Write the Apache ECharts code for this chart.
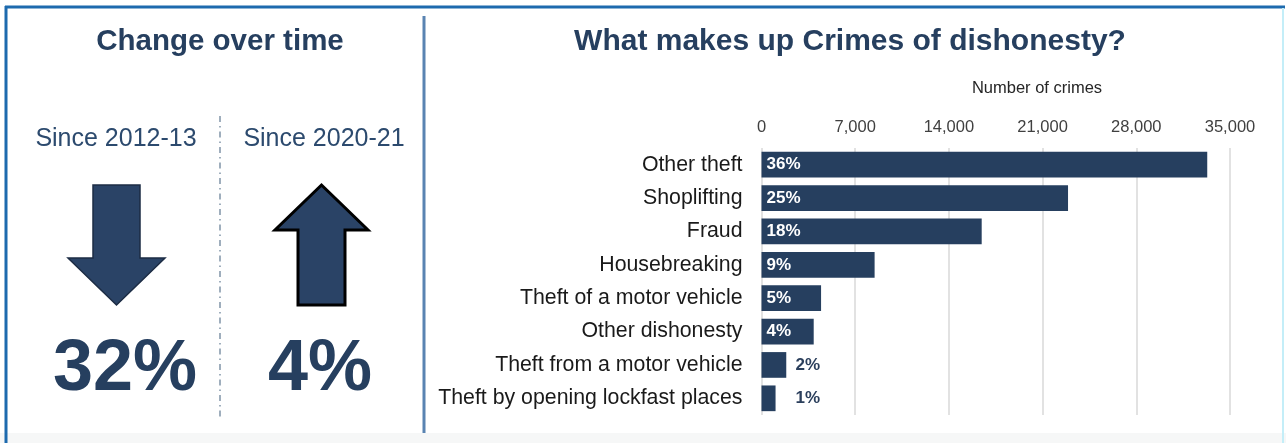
<!DOCTYPE html>
<html>
<head>
<meta charset="utf-8">
<script src="https://cdn.jsdelivr.net/npm/echarts@6/dist/echarts.min.js"></script>
<style>
  html, body { margin: 0; padding: 0; background: #ffffff; }
  #chart { width: 1286px; height: 443px; }
</style>
</head>
<body>
<div id="chart"></div>
<script>
// Crimes of dishonesty: breakdown by crime type
const categories = [
  'Other theft',
  'Shoplifting',
  'Fraud',
  'Housebreaking',
  'Theft of a motor vehicle',
  'Other dishonesty',
  'Theft from a motor vehicle',
  'Theft by opening lockfast places'
];
const crimeCounts = [33300, 22900, 16450, 8450, 4450, 3900, 1850, 1050];
const shareLabels = ['36%', '25%', '18%', '9%', '5%', '4%', '2%', '1%'];
const axisTicks = [0, 7000, 14000, 21000, 28000, 35000];

// Change over time panel
const changePeriods = ['Since 2012-13', 'Since 2020-21'];
const changeValues = [-32, 4];

const NAVY = '#263f5f';
const FONT = '"Liberation Sans", Arial, sans-serif';

const chart = echarts.init(document.getElementById('chart'));

// arrow polygon built around a column centre
function arrowPoints(cx, top, bottom, up, headW, shaftW, headLen) {
  const hl = cx - headW / 2, hr = cx + headW / 2;
  const sl = cx - shaftW / 2, sr = cx + shaftW / 2;
  if (up) {
    const hb = top + headLen;
    return [[cx, top], [hr, hb], [sr, hb], [sr, bottom], [sl, bottom], [sl, hb], [hl, hb]];
  }
  const hb = bottom - headLen;
  return [[sl, top], [sr, top], [sr, hb], [hr, hb], [cx, bottom], [hl, hb], [sl, hb]];
}

const periodCenters = [116, 324];
const valueCenters = [125, 320];
const leftGraphics = [];
changePeriods.forEach((p, i) => {
  const up = changeValues[i] > 0;
  leftGraphics.push({
    type: 'text', x: periodCenters[i], y: 139,
    style: { text: p, font: '25px ' + FONT, fill: '#2c4a6e', textAlign: 'center', textVerticalAlign: 'middle' }
  });
  leftGraphics.push({
    type: 'polygon',
    shape: { points: up ? arrowPoints(321.5, 185, 305, true, 93, 47, 45)
                        : arrowPoints(116.5, 185, 305, false, 97, 47, 47) },
    style: { fill: '#2a4366', stroke: up ? '#000000' : '#1c2c44', lineWidth: up ? 3 : 1.5, lineJoin: 'miter' }
  });
  leftGraphics.push({
    type: 'text', x: valueCenters[i], y: 370,
    style: { text: Math.abs(changeValues[i]) + '%', font: 'bold 72px ' + FONT, fill: NAVY, textAlign: 'center', textVerticalAlign: 'middle' }
  });
});

chart.setOption({
  backgroundColor: '#ffffff',
  animation: false,
  textStyle: { fontFamily: FONT },
  graphic: [
    // frame
    { type: 'rect', shape: { x: 0, y: 433, width: 1286, height: 10 }, style: { fill: '#f6f7f7' }, silent: true },
    { type: 'line', shape: { x1: 5, y1: 7, x2: 1285, y2: 7 }, style: { stroke: '#1d6aae', lineWidth: 3 } },
    { type: 'line', shape: { x1: 6, y1: 6, x2: 6, y2: 443 }, style: { stroke: '#1d6aae', lineWidth: 3 } },
    { type: 'line', shape: { x1: 1283, y1: 8, x2: 1283, y2: 443 }, style: { stroke: '#c4eef8', lineWidth: 2 } },
    // panel divider
    { type: 'line', shape: { x1: 424, y1: 16, x2: 424, y2: 433 }, style: { stroke: '#5a84b2', lineWidth: 3 } },
    // column divider
    { type: 'line', shape: { x1: 220, y1: 116, x2: 220, y2: 417 }, style: { stroke: '#8094a8', lineWidth: 1.5, lineDash: [6, 4, 1.5, 4] } },
    // headings
    { type: 'text', x: 220, y: 42, style: { text: 'Change over time', font: 'bold 29.5px ' + FONT, fill: NAVY, textAlign: 'center', textVerticalAlign: 'middle' } },
    { type: 'text', x: 850, y: 42, style: { text: 'What makes up Crimes of dishonesty?', font: 'bold 30px ' + FONT, fill: NAVY, textAlign: 'center', textVerticalAlign: 'middle' } },
    { type: 'text', x: 1037, y: 88, style: { text: 'Number of crimes', font: '16.5px ' + FONT, fill: '#262626', textAlign: 'center', textVerticalAlign: 'middle' } }
  ].concat(leftGraphics),
  grid: { left: 761.5, right: 56, top: 148, bottom: 28, containLabel: false },
  xAxis: {
    type: 'value',
    position: 'top',
    min: axisTicks[0],
    max: axisTicks[axisTicks.length - 1],
    interval: axisTicks[1] - axisTicks[0],
    axisLine: { show: false },
    axisTick: { show: false },
    axisLabel: {
      margin: 12,
      fontSize: 16.5,
      color: '#404040',
      formatter: v => v.toLocaleString('en-GB')
    },
    splitLine: { show: true, lineStyle: { color: '#d9d9d9', width: 1.5 } }
  },
  yAxis: {
    type: 'category',
    inverse: true,
    data: categories,
    axisLine: { show: false },
    axisTick: { show: false },
    axisLabel: { margin: 19, fontSize: 21.3, color: '#1a1a1a' }
  },
  series: [{
    type: 'bar',
    barCategoryGap: '23%',
    itemStyle: { color: NAVY },
    data: crimeCounts.map((v, i) => {
      const outside = v < 3000;
      return {
        value: v,
        label: outside
          ? { position: 'insideLeft', offset: [29, 0], color: '#2b3f5c' }
          : { position: 'insideLeft', color: '#ffffff' }
      };
    }),
    label: {
      show: true,
      distance: 5,
      fontSize: 17,
      fontWeight: 'bold',
      formatter: p => shareLabels[p.dataIndex]
    }
  }]
});
</script>
</body>
</html>
